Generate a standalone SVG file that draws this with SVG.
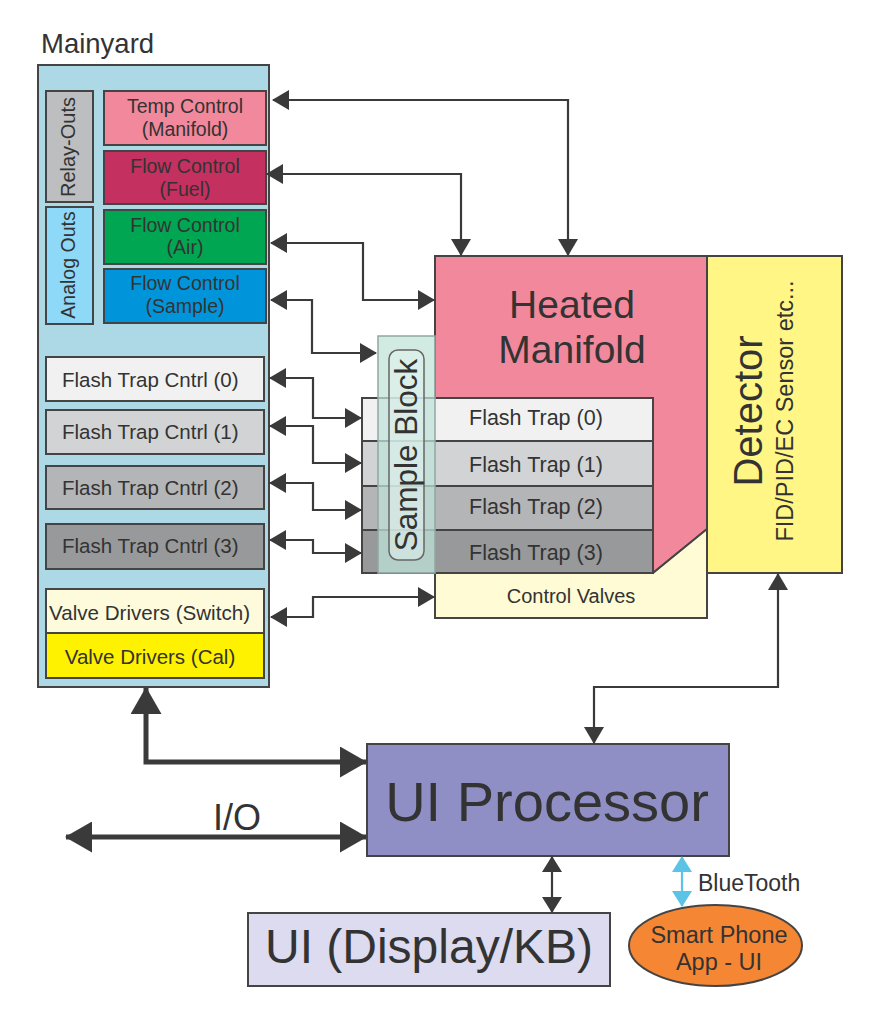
<svg xmlns="http://www.w3.org/2000/svg" width="889" height="1024" viewBox="0 0 889 1024">
<style>
text{font-family:"Liberation Sans",Arial,sans-serif;fill:#333}
.box{stroke:#444;stroke-width:2}
.c{fill:none;stroke:#3a3a3a;stroke-width:2.2}
.thick{fill:none;stroke:#3a3a3a;stroke-width:5}
.bt{fill:none;stroke:#5bc4e6;stroke-width:2.2}
.m{text-anchor:middle}
</style>
<defs>
<marker id="ah" markerUnits="userSpaceOnUse" markerWidth="17" markerHeight="20" refX="16" refY="10" orient="auto-start-reverse" viewBox="0 0 17 20"><path d="M0,0 L17,10 L0,20 z" fill="#3a3a3a"/></marker>
<marker id="ahs" markerUnits="userSpaceOnUse" markerWidth="16" markerHeight="20" refX="15" refY="10" orient="auto-start-reverse" viewBox="0 0 16 20"><path d="M0,0 L16,10 L0,20 z" fill="#3a3a3a"/></marker>
<marker id="ahb" markerUnits="userSpaceOnUse" markerWidth="16" markerHeight="20" refX="15" refY="10" orient="auto-start-reverse" viewBox="0 0 16 20"><path d="M0,0 L16,10 L0,20 z" fill="#5bc4e6"/></marker>
<marker id="aht" markerUnits="userSpaceOnUse" markerWidth="27" markerHeight="31" refX="26" refY="15.5" orient="auto-start-reverse" viewBox="0 0 27 31"><path d="M0,0 L27,15.5 L0,31 z" fill="#3a3a3a"/></marker>
</defs>
<rect width="889" height="1024" fill="#fff"/>

<g id="mainyard">
<text x="41" y="53" font-size="27.5">Mainyard</text>
<rect class="box" x="38" y="65" width="231" height="622" fill="#acd9e5"/>
</g>
<g id="relay-outs">
<rect class="box" x="46" y="91" width="47" height="111" fill="#bcbec0"/>
<text class="m" font-size="20" transform="translate(75,147) rotate(-90)">Relay-Outs</text>
</g>
<g id="analog-outs">
<rect class="box" x="46" y="207" width="47" height="117" fill="#8ed8f8"/>
<text class="m" font-size="19.5" transform="translate(75,265) rotate(-90)">Analog Outs</text>
</g>
<g id="temp-control">
<rect class="box" x="104" y="91" width="162" height="54" fill="#f2889b"/>
<text class="m" x="185" y="113" font-size="19.5">Temp Control</text>
<text class="m" x="185" y="136" font-size="19.5">(Manifold)</text>
</g>
<g id="flow-fuel">
<rect class="box" x="104" y="151" width="162" height="53" fill="#c4305f"/>
<text class="m" x="185" y="173" font-size="19.5">Flow Control</text>
<text class="m" x="185" y="196" font-size="19.5">(Fuel)</text>
</g>
<g id="flow-air">
<rect class="box" x="104" y="210" width="162" height="54" fill="#00a651"/>
<text class="m" x="185" y="232" font-size="19.5">Flow Control</text>
<text class="m" x="185" y="254" font-size="19.5">(Air)</text>
</g>
<g id="flow-sample">
<rect class="box" x="104" y="269" width="162" height="54" fill="#0095da"/>
<text class="m" x="185" y="290" font-size="19.5">Flow Control</text>
<text class="m" x="185" y="313" font-size="19.5">(Sample)</text>
</g>
<g id="ftc0">
<rect class="box" x="46" y="357" width="218" height="44" fill="#f1f1f2"/>
<text x="62" y="387" font-size="20.5">Flash Trap Cntrl (0)</text>
</g>
<g id="ftc1">
<rect class="box" x="46" y="410" width="218" height="44" fill="#d1d3d4"/>
<text x="62" y="439" font-size="20.5">Flash Trap Cntrl (1)</text>
</g>
<g id="ftc2">
<rect class="box" x="46" y="466" width="218" height="43" fill="#b3b5b7"/>
<text x="62" y="495" font-size="20.5">Flash Trap Cntrl (2)</text>
</g>
<g id="ftc3">
<rect class="box" x="46" y="524" width="218" height="45" fill="#98999b"/>
<text x="62" y="553" font-size="20.5">Flash Trap Cntrl (3)</text>
</g>
<g id="valve-switch">
<rect class="box" x="46" y="589" width="218" height="44" fill="#fefbdd"/>
<text x="49" y="620" font-size="20.6">Valve Drivers (Switch)</text>
</g>
<g id="valve-cal">
<rect class="box" x="46" y="633" width="218" height="45" fill="#fff200"/>
<text class="m" x="150" y="664" font-size="20.5">Valve Drivers (Cal)</text>
</g>

<g id="heated-manifold">
<polygon class="box" points="435,256 707,256 707,529 653,573 435,573" fill="#f2889b"/>
<text class="m" x="572" y="318" font-size="39">Heated</text>
<text class="m" x="572" y="363" font-size="39">Manifold</text>
</g>
<g id="control-valves">
<polygon class="box" points="435,573 653,573 707,529 707,618 435,618" fill="#fffbd4"/>
<text class="m" x="571" y="603" font-size="20">Control Valves</text>
</g>
<g id="detector">
<rect class="box" x="707" y="256" width="135" height="317" fill="#fff685"/>
<text class="m" font-size="40" transform="translate(762,411) rotate(-90)">Detector</text>
<text class="m" font-size="23.5" transform="translate(793,411) rotate(-90)">FID/PID/EC Sensor etc...</text>
</g>
<g id="ft0">
<rect class="box" x="362" y="398" width="291" height="43" fill="#f1f1f2"/>
<text x="469" y="425" font-size="21.5">Flash Trap (0)</text>
</g>
<g id="ft1">
<rect class="box" x="362" y="441" width="291" height="45" fill="#d1d3d4"/>
<text x="469" y="472" font-size="21.5">Flash Trap (1)</text>
</g>
<g id="ft2">
<rect class="box" x="362" y="486" width="291" height="44" fill="#b3b5b7"/>
<text x="469" y="514" font-size="21.5">Flash Trap (2)</text>
</g>
<g id="ft3">
<rect class="box" x="362" y="530" width="291" height="43" fill="#98999b"/>
<text x="469" y="560" font-size="21.5">Flash Trap (3)</text>
</g>
<g id="sample-block">
<rect x="378" y="336" width="57" height="237" fill="#bfe3d8" fill-opacity="0.72" stroke="#8fa8a2" stroke-width="1.5"/>
<rect x="389" y="350" width="35" height="210" rx="9" fill="#e4f3ee" fill-opacity="0.55" stroke="#666" stroke-width="1.5"/>
<text class="m" font-size="31.5" transform="translate(417,455) rotate(-90)">Sample Block</text>
</g>

<g id="ui-processor">
<rect class="box" x="367" y="744" width="362" height="112" fill="#8f8fc6"/>
<text class="m" x="547" y="821" font-size="56">UI Processor</text>
</g>
<g id="ui-display">
<rect class="box" x="248" y="913" width="362" height="73" fill="#dddbef"/>
<text class="m" x="429" y="963" font-size="48">UI (Display/KB)</text>
</g>
<g id="smart-phone">
<ellipse cx="715.5" cy="945.5" rx="86.5" ry="40.5" fill="#f58634" stroke="#444" stroke-width="2"/>
<text class="m" x="719" y="943" font-size="23.5">Smart Phone</text>
<text class="m" x="719" y="970" font-size="23.5">App - UI</text>
</g>

<g id="connectors">
<path class="c" d="M273,100 H568 V255" marker-start="url(#ah)" marker-end="url(#ah)"/>
<path class="c" d="M267,174 H461 V255" marker-start="url(#ah)" marker-end="url(#ah)"/>
<path class="c" d="M271,243 H363 V300 H434" marker-start="url(#ah)" marker-end="url(#ah)"/>
<path class="c" d="M271,300 H312 V353 H376" marker-start="url(#ah)" marker-end="url(#ah)"/>
<path class="c" d="M270,378 H313 V418 H361" marker-start="url(#ah)" marker-end="url(#ah)"/>
<path class="c" d="M270,426 H313 V463 H361" marker-start="url(#ah)" marker-end="url(#ah)"/>
<path class="c" d="M270,483 H313 V510 H361" marker-start="url(#ah)" marker-end="url(#ah)"/>
<path class="c" d="M270,540 H313 V553 H361" marker-start="url(#ah)" marker-end="url(#ah)"/>
<path class="c" d="M271,617 H313 V597 H434" marker-start="url(#ah)" marker-end="url(#ah)"/>
<path class="c" d="M778,574 V687 H594 V743" marker-start="url(#ah)" marker-end="url(#ah)"/>
<path class="thick" d="M146,688 V762 H366" marker-start="url(#aht)" marker-end="url(#aht)"/>
<path class="thick" d="M66,837 H366" marker-start="url(#aht)" marker-end="url(#aht)"/>
<path class="c" d="M552,857 V912" marker-start="url(#ahs)" marker-end="url(#ahs)"/>
<path class="bt" d="M682,857 V906" marker-start="url(#ahb)" marker-end="url(#ahb)"/>
<text x="698" y="891" font-size="23">BlueTooth</text>
<text class="m" x="237" y="830" font-size="36">I/O</text>
</g>
</svg>
